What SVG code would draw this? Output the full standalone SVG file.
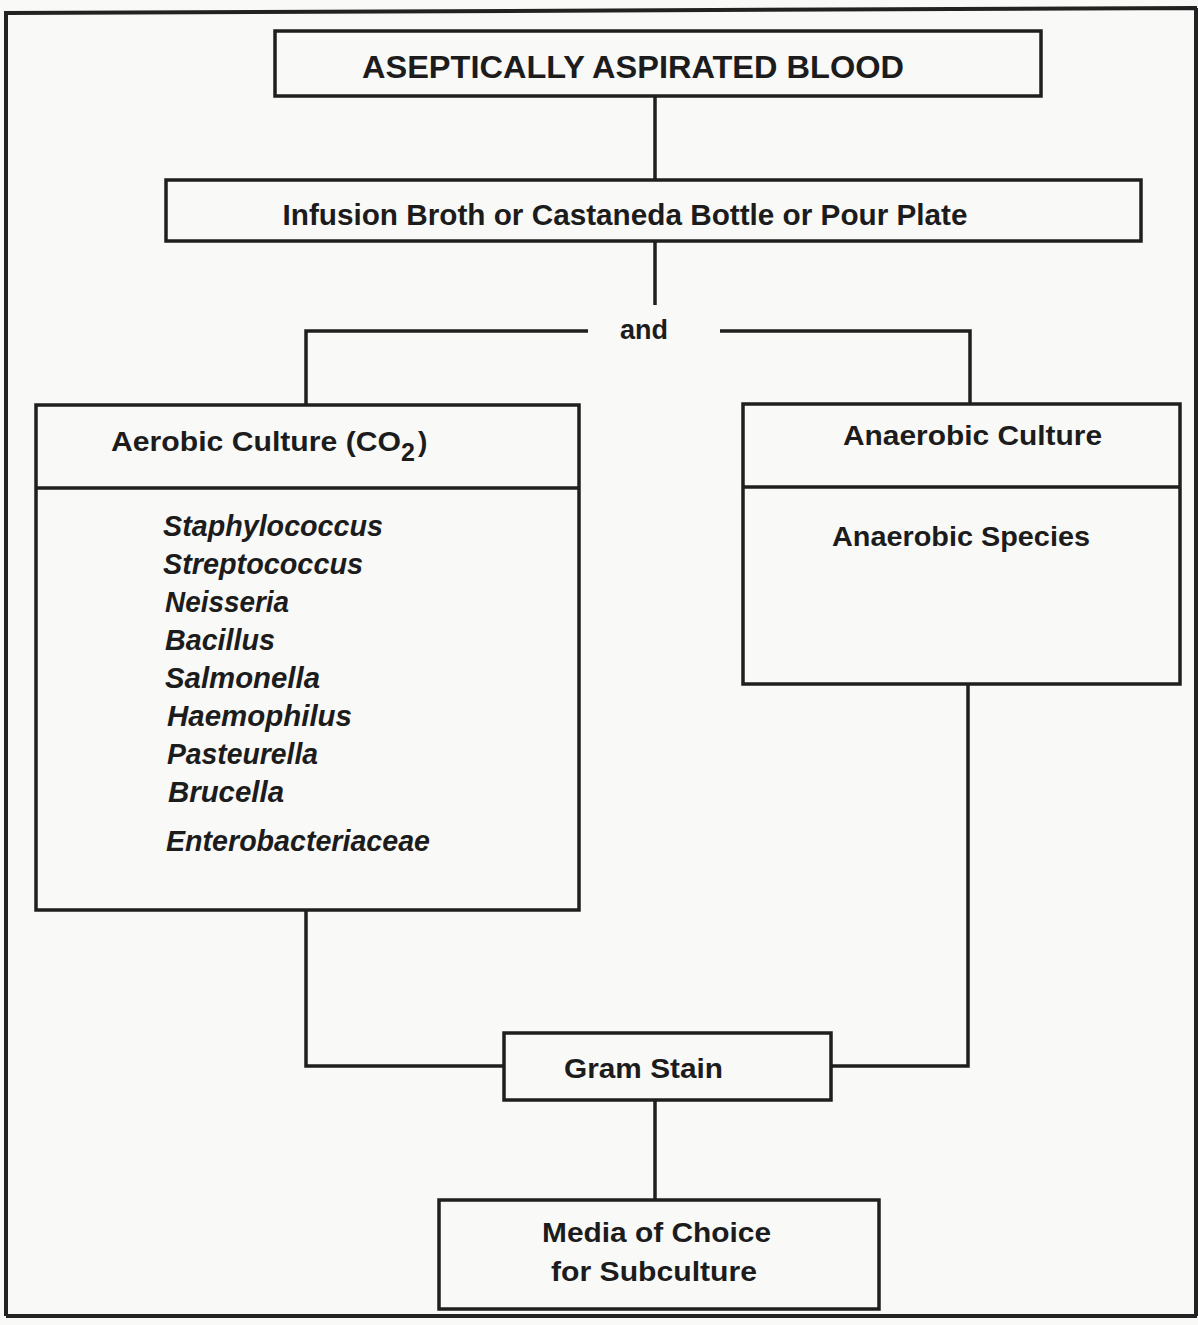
<svg xmlns="http://www.w3.org/2000/svg" width="1198" height="1325" viewBox="0 0 1198 1325">
  <style>
    .box { fill: none; stroke: #1f1f1f; stroke-width: 3.5; }
    .wire { fill: none; stroke: #1f1f1f; stroke-width: 3.5; }
    .frame { fill: none; stroke: #222; stroke-width: 4; }
    .hd { font-family: "Liberation Sans", Arial, sans-serif; font-weight: bold; fill: #1c1c1c; }
    .sp { font-family: "Liberation Sans", Arial, sans-serif; font-weight: bold; font-style: italic; fill: #1c1c1c; font-size: 29px; }
  </style>
  <rect x="0" y="0" width="1198" height="1325" fill="#f9f9f7"/>

  <!-- page frame -->
  <path class="frame" d="M6,1316 L6,13 L1197,8 M6,1316 L1197,1316 M1196,8 L1196,1316"/>

  <!-- connectors -->
  <g id="connectors">
    <path class="wire" d="M655,96 L655,180"/>
    <path class="wire" d="M655,241 L655,305"/>
    <path class="wire" d="M306,405 L306,331 L588,331"/>
    <path class="wire" d="M720,331 L970,331 L970,404"/>
    <path class="wire" d="M306,910 L306,1066 L504,1066"/>
    <path class="wire" d="M968,684 L968,1066 L831,1066"/>
    <path class="wire" d="M655,1100 L655,1200"/>
    <text class="hd" x="644" y="339" font-size="27" text-anchor="middle" textLength="48" lengthAdjust="spacingAndGlyphs">and</text>
  </g>

  <g id="blood">
    <rect class="box" x="275" y="31" width="766" height="65"/>
    <text class="hd" x="633" y="78" font-size="31" text-anchor="middle" textLength="542" lengthAdjust="spacingAndGlyphs">ASEPTICALLY ASPIRATED BLOOD</text>
  </g>

  <g id="broth">
    <rect class="box" x="166" y="180" width="975" height="61"/>
    <text class="hd" x="625" y="225" font-size="29" text-anchor="middle" textLength="685" lengthAdjust="spacingAndGlyphs">Infusion Broth or Castaneda Bottle or Pour Plate</text>
  </g>

  <g id="aerobic">
    <rect class="box" x="36" y="405" width="543" height="505"/>
    <line class="box" x1="36" y1="488" x2="579" y2="488"/>
    <text class="hd" x="111" y="451" font-size="28" textLength="290" lengthAdjust="spacingAndGlyphs">Aerobic Culture (CO</text>
    <text class="hd" x="401" y="461" font-size="25">2</text>
    <text class="hd" x="418" y="451" font-size="28">)</text>
    <text class="sp" x="163" y="536" textLength="220" lengthAdjust="spacingAndGlyphs">Staphylococcus</text>
    <text class="sp" x="163" y="574" textLength="200" lengthAdjust="spacingAndGlyphs">Streptococcus</text>
    <text class="sp" x="165" y="612" textLength="124" lengthAdjust="spacingAndGlyphs">Neisseria</text>
    <text class="sp" x="165" y="650" textLength="110" lengthAdjust="spacingAndGlyphs">Bacillus</text>
    <text class="sp" x="165" y="688" textLength="155" lengthAdjust="spacingAndGlyphs">Salmonella</text>
    <text class="sp" x="167" y="726" textLength="185" lengthAdjust="spacingAndGlyphs">Haemophilus</text>
    <text class="sp" x="167" y="764" textLength="151" lengthAdjust="spacingAndGlyphs">Pasteurella</text>
    <text class="sp" x="168" y="802" textLength="116" lengthAdjust="spacingAndGlyphs">Brucella</text>
    <text class="sp" x="166" y="851" textLength="264" lengthAdjust="spacingAndGlyphs">Enterobacteriaceae</text>
  </g>

  <g id="anaerobic">
    <rect class="box" x="743" y="404" width="437" height="280"/>
    <line class="box" x1="743" y1="487" x2="1180" y2="487"/>
    <text class="hd" x="843" y="445" font-size="28" textLength="259" lengthAdjust="spacingAndGlyphs">Anaerobic Culture</text>
    <text class="hd" x="832" y="546" font-size="28" textLength="258" lengthAdjust="spacingAndGlyphs">Anaerobic Species</text>
  </g>

  <g id="gram">
    <rect class="box" x="504" y="1033" width="327" height="67"/>
    <text class="hd" x="564" y="1078" font-size="28" textLength="159" lengthAdjust="spacingAndGlyphs">Gram Stain</text>
  </g>

  <g id="subculture">
    <rect class="box" x="439" y="1200" width="440" height="109"/>
    <text class="hd" x="542" y="1242" font-size="28" textLength="229" lengthAdjust="spacingAndGlyphs">Media of Choice</text>
    <text class="hd" x="551" y="1281" font-size="28" textLength="206" lengthAdjust="spacingAndGlyphs">for Subculture</text>
  </g>
</svg>
